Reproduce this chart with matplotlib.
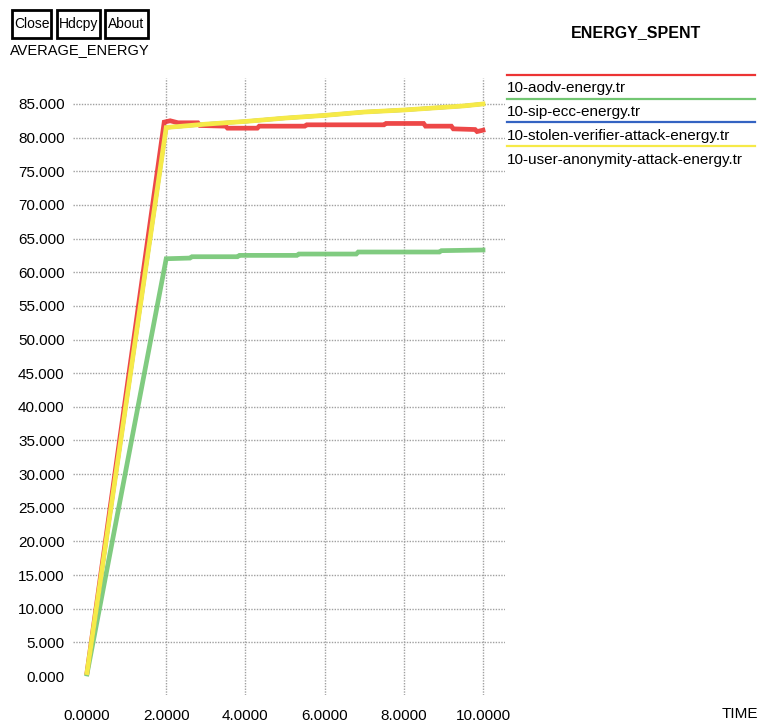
import matplotlib
matplotlib.use("Agg")
import matplotlib.pyplot as plt
from matplotlib.patches import Rectangle
from matplotlib.lines import Line2D

plt.rcParams['font.family'] = ['Liberation Sans', 'DejaVu Sans']

W, H = 761, 724

# Energy traces (time, average energy)
aodv_t = [0.0, 1.95, 2.1, 2.3, 2.8, 2.85, 3.5, 3.55, 4.3, 4.35, 5.5, 5.55, 7.5, 7.55, 8.5, 8.55, 9.2, 9.25, 9.8, 9.85, 10.0]
aodv_e = [0.5, 82.3, 82.5, 82.2, 82.2, 81.8, 81.7, 81.4, 81.4, 81.7, 81.7, 81.9, 81.9, 82.1, 82.1, 81.7, 81.7, 81.3, 81.2, 80.9, 81.1]

sip_t = [0.0, 2.0, 2.6, 2.65, 3.8, 3.85, 5.3, 5.35, 6.8, 6.85, 8.9, 8.95, 10.0]
sip_e = [0.3, 62.0, 62.1, 62.3, 62.3, 62.5, 62.5, 62.7, 62.7, 63.0, 63.0, 63.2, 63.3]

stolen_t = [0.0, 2.0, 2.2, 3.0, 4.0, 5.0, 6.0, 7.0, 8.0, 9.0, 9.5, 10.0]
stolen_e = [0.5, 81.5, 81.6, 82.0, 82.4, 82.9, 83.3, 83.8, 84.1, 84.5, 84.7, 85.0]

anon_t = [0.0, 2.0, 2.2, 3.0, 4.0, 5.0, 6.0, 7.0, 8.0, 9.0, 9.5, 10.0]
anon_e = [0.5, 81.5, 81.6, 82.0, 82.4, 82.9, 83.3, 83.8, 84.1, 84.5, 84.7, 85.0]

series_names = ["10-aodv-energy.tr", "10-sip-ecc-energy.tr",
                "10-stolen-verifier-attack-energy.tr", "10-user-anonymity-attack-energy.tr"]
series_colors = ["#ec3434", "#72c672", "#3463c2", "#f6ea48"]
series_alpha = [0.9, 0.9, 0.9, 1.0]
series_width = [3.4, 3.4, 2.8, 3.4]

x_ticks = [2.0, 4.0, 6.0, 8.0, 10.0]
x_labels = ["0.0000", "2.0000", "4.0000", "6.0000", "8.0000", "10.0000"]
y_ticks = list(range(0, 90, 5))


def fx(x):
    return x / W


def fy(y):
    return 1 - y / H


fig = plt.figure(figsize=(W / 100, H / 100), dpi=100)

# plot area in pixels and pixel<->data mapping
L, R, T, B = 73, 505, 78, 695
x0_px, x_per = 87.0, 39.6
y0_px, y_per = 676.0, 6.73
ax = fig.add_axes([fx(L), fy(B), (R - L) / W, (B - T) / H])
ax.set_xlim((L - x0_px) / x_per, (R - x0_px) / x_per)
ax.set_ylim((y0_px - B) / y_per, (y0_px - T) / y_per)
for s in ax.spines.values():
    s.set_visible(False)

grid_kw = dict(color="#a0a0a0", linewidth=1.0, linestyle=(0, (1, 1)), zorder=1)
for v in y_ticks[1:]:
    ax.axhline(v, **grid_kw)
for t in x_ticks:
    ax.axvline(t, **grid_kw)

series = [(aodv_t, aodv_e), (sip_t, sip_e), (stolen_t, stolen_e), (anon_t, anon_e)]
for (t, e), c, a, w in zip(series, series_colors, series_alpha, series_width):
    ax.plot(t, e, color=c, linewidth=w, alpha=a, solid_joinstyle="miter", zorder=3)

ax.set_yticks(y_ticks)
ax.set_yticklabels(["%.3f" % v for v in y_ticks])
ax.set_xticks([0.0] + x_ticks)
ax.set_xticklabels(x_labels)
ax.tick_params(axis="both", length=0, labelsize=11)
ax.tick_params(axis="y", pad=6)
ax.tick_params(axis="x", pad=10)

# header buttons
for label, x1, x2 in [("Close", 12, 51), ("Hdcpy", 57, 100), ("About", 105, 148)]:
    fig.patches.append(Rectangle((fx(x1), fy(38)), (x2 - x1) / W, 28 / H,
                                 transform=fig.transFigure, fill=False,
                                 edgecolor="black", linewidth=2.0))
    fig.text(fx((x1 + x2) / 2), fy(24), label, ha="center", va="center", fontsize=10)

fig.text(fx(10), fy(50), "AVERAGE_ENERGY", ha="left", va="center", fontsize=10.5)
fig.text(fx(636), fy(33), "ENERGY_SPENT", ha="center", va="center",
         fontsize=11.5, fontweight="bold")
fig.text(fx(740), fy(714), "TIME", ha="center", va="center", fontsize=11)

# legend: coloured rule above each file name
line_y = [75, 99, 122, 146]
text_y = [88, 112, 136, 160]
for name, c, ly, ty in zip(series_names, series_colors, line_y, text_y):
    fig.add_artist(Line2D([fx(507), fx(755)], [fy(ly), fy(ly)], color=c,
                          linewidth=1.6, transform=fig.transFigure))
    fig.text(fx(507), fy(ty), name, ha="left", va="center", fontsize=11)

fig.savefig("out.png", dpi=100)
